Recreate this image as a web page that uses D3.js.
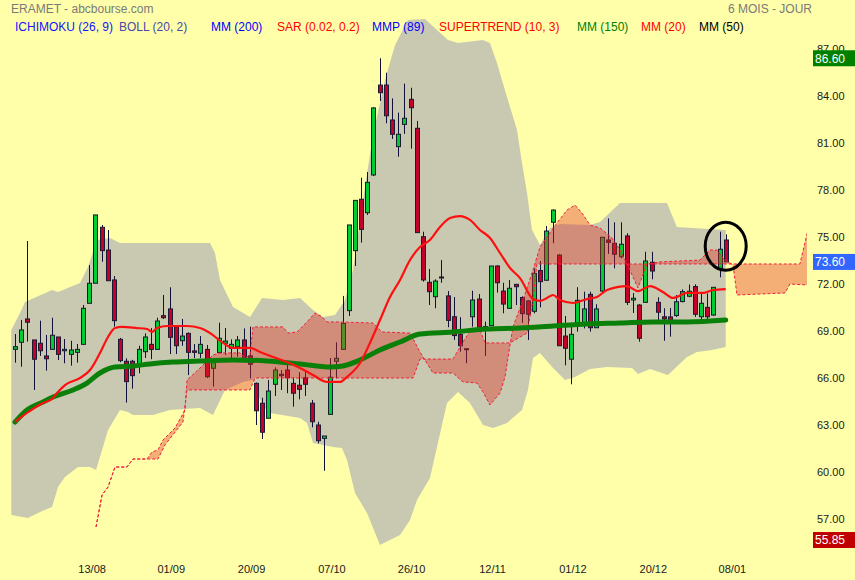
<!DOCTYPE html>
<html><head><meta charset="utf-8">
<script src="https://cdn.jsdelivr.net/npm/d3@7"></script>
<style>
body{margin:0;background:#ffffaa}
svg{display:block}
text{font-family:"Liberation Sans",Arial,sans-serif}
</style>
</head><body>
<svg id="chart" width="855" height="580"></svg>
<script>
// ---------- DATA ----------
const openP = [68.02,68.47,69.96,68.62,68.41,67.60,68.02,68.81,67.93,67.70,
 67.83,68.34,70.96,72.24,75.81,74.36,72.45,68.66,67.26,67.26,
 66.98,67.87,68.34,68.02,70.17,70.60,69.47,68.57,69.04,67.92,
 67.77,68.02,66.81,67.81,68.41,68.09,68.19,68.62,67.60,65.85,
 64.58,63.62,65.79,66.43,66.70,65.85,65.73,66.21,64.58,63.19,
 62.34,63.87,67.26,68.02,70.49,74.32,77.60,76.74,79.15,84.89,
 84.89,82.66,80.96,82.38,83.98,82.13,75.21,72.30,71.38,72.60,
 71.43,70.10,68.98,68.06,70.10,71.23,69.41,69.53,73.34,71.74,
 70.64,72.17,71.33,71.11,70.45,73.05,72.43,76.13,74.04,68.87,
 67.39,69.68,69.68,71.53,69.40,71.74,75.00,74.79,73.93,75.26,
 71.17,70.85,71.02,73.58,71.02,70.10,70.09,70.18,71.07,71.41,
 72.03,70.10,70.70,70.21,73.19,75.00];
const highP = [69.00,69.89,74.94,68.62,69.85,68.94,70.04,68.81,68.68,68.57,
 68.36,70.85,73.40,76.60,75.96,75.64,72.70,68.75,67.45,67.35,
 68.25,69.04,69.38,70.04,71.49,71.98,69.55,69.96,69.10,68.36,
 68.87,68.30,67.45,69.72,69.38,68.66,68.87,69.36,69.47,65.90,
 64.93,66.06,66.87,66.70,67.02,66.24,66.56,66.70,64.79,63.40,
 62.49,67.47,68.47,71.43,75.96,77.53,78.98,79.34,83.47,86.60,
 85.68,84.04,83.13,84.98,84.72,82.60,75.53,73.15,72.49,73.72,
 71.74,71.36,70.07,68.06,71.76,71.55,69.79,73.34,73.40,72.27,
 72.45,72.20,71.40,71.15,73.19,73.66,75.89,76.95,74.09,70.15,
 69.73,71.99,71.70,71.70,70.90,75.17,76.38,76.13,76.13,75.43,
 71.62,70.90,74.25,74.25,71.34,70.64,70.66,71.49,71.85,72.16,
 72.17,71.59,71.59,72.00,75.53,75.36];
const lowP = [67.17,66.91,68.51,65.43,67.60,66.66,68.02,67.34,67.13,66.98,
 67.17,68.34,70.96,72.24,73.61,72.40,69.47,67.20,64.62,65.51,
 66.49,67.47,67.39,68.02,69.96,67.72,67.72,68.25,66.38,67.47,
 67.47,66.19,65.64,67.81,67.66,67.45,67.55,67.34,66.17,63.19,
 62.30,63.62,65.04,65.43,65.22,64.36,64.83,65.04,63.04,62.02,
 60.27,63.87,66.17,68.02,70.15,73.34,74.83,76.60,79.08,83.87,
 82.45,81.45,80.32,81.77,80.83,75.47,72.34,70.85,70.64,72.27,
 69.43,68.62,67.87,67.13,69.47,69.15,67.60,69.53,71.64,70.32,
 70.60,70.85,69.72,68.62,70.32,70.70,72.43,74.79,68.25,67.00,
 65.79,69.15,69.36,69.15,69.40,71.60,74.11,73.19,73.83,70.85,
 70.34,68.51,71.02,72.49,69.89,68.57,68.83,70.09,71.02,71.35,
 70.09,69.89,69.89,70.15,72.62,73.60];
const closeP = [68.19,69.26,69.75,67.39,67.93,67.42,68.92,67.70,68.02,67.98,
 68.02,70.64,72.24,76.60,74.32,72.40,69.85,67.30,65.96,66.34,
 68.02,68.81,68.02,69.83,70.04,68.79,68.25,68.87,67.83,67.83,
 68.34,66.27,67.17,68.73,68.55,68.34,68.62,67.45,67.07,64.10,
 62.73,65.36,66.70,66.34,66.21,65.22,65.47,65.79,63.40,62.19,
 62.49,66.24,67.45,69.68,75.96,77.53,75.68,78.68,83.43,84.40,
 82.93,81.75,81.75,82.77,83.44,75.47,72.45,71.70,72.38,72.64,
 69.87,68.90,68.25,68.00,71.17,69.43,69.47,73.34,72.27,70.91,
 71.92,72.02,70.30,70.26,72.87,72.34,75.57,76.91,68.25,68.09,
 68.98,71.15,70.60,69.40,70.60,75.17,74.85,74.09,74.73,71.02,
 71.28,68.73,73.66,73.02,70.39,69.96,69.87,71.06,71.71,71.73,
 70.26,70.96,70.10,71.98,74.41,73.60];

// Bollinger (20,2) envelope, [candle index, price]
const bollUpper = [[-0.6,69.26],[0.81,70.34],[1.62,71.04],[5.99,71.81],[6.96,71.68],[10.52,72.26],[11.81,73.28],
 [13.27,75.00],[15.37,75.13],[16.99,74.81],[31.55,74.81],[32.36,74.17],[33.17,72.45],[35.28,70.72],[38.03,70.09],
 [39.97,71.30],[43.37,71.17],[46.12,71.30],[48.22,70.53],[49.84,70.09],[51.78,70.21],[53.40,71.17],[54.69,73.09],
 [56.31,77.55],[57.93,81.70],[59.87,85.21],[61.49,87.45],[63.59,89.04],[66.34,89.11],[70.06,87.77],[71.68,87.57],
 [75.73,87.77],[76.86,87.57],[77.99,86.30],[79.61,84.13],[81.23,82.02],[82.04,79.91],[82.85,78.00],[83.66,75.64],
 [84.95,74.68],[86.57,75.77],[88.19,76.02],[93.04,75.96],[94.66,76.15],[97.90,77.36],[105.5,77.36],[107.1,75.83],[115,75.64]];
const bollLower = [[-0.6,57.45],[2.10,57.26],[4.05,57.64],[5.99,57.96],[6.96,59.23],[8.09,59.87],[10.19,60.51],
 [12.14,60.51],[13.11,60.32],[13.75,61.15],[15.05,62.87],[16.99,64.15],[18.28,64.02],[19.09,63.83],[22.33,63.83],
 [25.08,64.15],[29.94,64.28],[32.04,63.83],[33.98,65.43],[36.89,65.94],[38.51,66.06],[39.97,64.47],[41.26,63.96],
 [46.12,63.64],[47.25,63.32],[48.22,62.04],[51.46,61.79],[52.91,61.72],[53.72,60.96],[55.02,58.85],[56.96,57.57],
 [59.06,55.53],[62.30,56.17],[63.92,57.13],[65.05,58.40],[67.15,59.81],[69.90,64.60],[71.68,65.30],[73.62,64.60],
 [75.73,63.19],[77.35,63.00],[79.61,63.32],[82.04,64.15],[83.01,65.43],[83.82,67.47],[84.95,67.79],[87.06,66.83],
 [89.00,66.06],[90.61,66.26],[93.04,66.77],[95.79,66.89],[99.84,66.83],[100.81,66.45],[102.75,66.77],[105.66,66.38],
 [108.74,67.53],[110.36,67.85],[112.78,67.98],[115,68.17]];

// Ichimoku (26,9) cloud spans, [index, price]
const spanA = [[13.11,56.68],[14.08,58.72],[15.05,59.23],[16.18,60.51],[18.12,60.51],[19.09,61.02],[21.36,61.02],
 [22.17,61.47],[23.14,61.60],[23.95,62.23],[25.89,63.00],[27.51,64.15],[27.83,66.06],[29.94,66.83],[32.04,67.66],
 [33.17,67.79],[36.41,67.79],[37.22,67.47],[38.03,67.66],[38.51,69.45],[43.37,69.45],[44.17,69.06],[45.63,69.13],
 [47.25,69.77],[48.54,70.34],[49.68,70.09],[50.49,69.77],[52.59,69.77],[57.93,69.70],[59.39,69.13],[63.92,69.06],
 [65.53,67.85],[67.64,66.51],[70.87,66.51],[72.49,65.94],[74.76,65.87],[75.73,65.30],[76.86,64.47],[78.48,65.23],
 [79.29,66.26],[80.10,68.30],[80.58,69.45],[82.20,71.17],[83.82,73.09],[84.95,74.55],[87.70,76.09],[89.32,76.91],
 [90.61,77.23],[91.75,76.72],[93.04,75.96],[94.66,75.77],[96.60,75.13],[97.90,74.36],[99.03,73.47],[100.81,71.94],
 [102.27,73.47],[104.37,73.60],[110.84,73.72],[112.46,74.36],[113.59,74.36],[114.56,73.85],[116.18,73.40],
 [116.83,71.49],[124.60,71.62],[125.40,72.19],[128.2,72.13]];
const spanB = [[13.11,56.68],[14.08,58.72],[15.05,59.23],[16.18,60.51],[18.12,60.51],[19.09,61.02],[23.14,61.02],
 [24.27,61.92],[27.18,63.38],[27.83,65.43],[38.03,65.43],[38.83,66.19],[64.40,66.19],[65.53,67.40],[70.87,67.40],
 [72.49,68.49],[73.95,69.38],[75.24,69.26],[76.05,68.43],[80.10,68.43],[82.85,69.06],[83.82,71.17],[84.45,73.47],
 [127.0,73.47],[128.2,75.45]];

// Moving averages, [index, price]
const mm20 = [[0,63.38],[1.94,63.96],[4.53,64.60],[5.99,64.85],[6.80,65.23],[8.09,65.74],[10.52,66.19],[12.14,66.70],
 [13.75,67.79],[15.05,68.81],[16.18,69.38],[17.31,69.45],[19.74,69.38],[21.36,69.32],[22.17,69.13],[22.98,69.38],
 [24.60,69.51],[27.83,69.51],[29.94,69.38],[31.55,69.06],[33.66,68.43],[35.28,68.11],[38.03,68.11],[39.64,67.85],
 [41.75,67.53],[44.01,67.21],[46.12,66.83],[48.22,66.38],[50.49,65.94],[52.59,65.94],[53.72,66.26],[55.83,67.15],
 [57.44,68.43],[59.06,69.89],[60.68,71.36],[62.30,72.45],[63.92,73.72],[65.53,74.55],[67.15,75.00],[68.77,75.83],
 [70.39,76.40],[72.01,76.53],[73.62,76.28],[75.24,75.64],[76.86,75.13],[78.48,74.17],[80.10,73.21],[81.72,72.57],
 [83.82,71.23],[84.95,71.11],[86.08,71.30],[87.06,71.49],[88.19,71.17],[90.29,70.98],[92.56,71.23],[94.17,71.36],
 [95.79,71.81],[99.03,72.06],[100.81,71.74],[102.75,72.06],[104.85,71.68],[106.47,71.30],[108.74,71.62],
 [111.33,71.62],[112.94,71.81],[115,71.87]];
const mm150 = [[0,63.38],[1.94,64.15],[4.53,64.66],[6.15,64.98],[9.39,65.43],[11.65,65.87],[13.75,66.51],[16.18,66.89],
 [19.09,66.96],[21.84,67.09],[25.57,67.21],[29.94,67.28],[35.28,67.34],[40.78,67.28],[46.12,67.09],[50.97,66.89],
 [53.07,66.96],[55.83,67.34],[59.06,67.98],[62.30,68.49],[65.53,69.00],[70.87,69.13],[76.38,69.32],[81.72,69.38],
 [87.06,69.51],[92.56,69.64],[97.90,69.70],[103.24,69.77],[108.74,69.77],[115,69.89]];

// Axis / labels
const priceTicks = [57,60,63,66,69,72,75,78,81,84,87];
const dateLabels = ["13/08","01/09","20/09","07/10","26/10","12/11","01/12","20/12","08/01"];
const dateIdx = [12.4,25.2,38.2,51.2,64.1,77.2,90.2,103.2,116.0];
const markerValues = [86.60,73.60,55.85];
const legendLabels = ["ICHIMOKU (26, 9)","BOLL (20, 2)","MM (200)","SAR (0.02, 0.2)","MMP (89)","SUPERTREND (10, 3)","MM (150)","MM (20)","MM (50)"];
const titleText = "ERAMET - abcbourse.com";
const periodText = "6 MOIS - JOUR";
const highlightIdx = 115, highlightPrice = 74.6;

// ---------- STYLE / LAYOUT ----------
const legendColors = ["#1515ff","#4848a8","#0000ff","#ff0000","#0000ff","#ff0000","#008000","#ff0000","#000000"];
const legendX = [15,119,211,277,372,439,577,641,699];
const markerColors = ["#008000","#3366ff","#c00000"];

const W = 855, H = 580;
const x = d3.scaleLinear().domain([0,115]).range([15,725.7]);
const y = d3.scaleLinear().domain([57,87]).range([522,52]);

const svg = d3.select("#chart");
svg.append("rect").attr("width",W).attr("height",H).attr("fill","#ffffaa");

svg.append("defs").append("clipPath").attr("id","plotClip")
  .append("rect").attr("x",10).attr("y",0).attr("width",797).attr("height",560);
const plot = svg.append("g").attr("clip-path","url(#plotClip)");

const lineXY = d3.line().x(d=>x(d[0])).y(d=>y(d[1]));
const poly = (a,b) => a.concat(b.slice().reverse());

// Bollinger band
plot.append("path").attr("d", lineXY(poly(bollUpper,bollLower))+"Z").attr("fill","#c9c9b1");

// Candles
const idx = d3.range(closeP.length);
const cg = plot.append("g");
cg.selectAll("line.wick").data(idx).join("line").attr("class","wick")
  .attr("x1",i=>Math.round(x(i))+0.5).attr("x2",i=>Math.round(x(i))+0.5)
  .attr("y1",i=>y(highP[i])).attr("y2",i=>y(lowP[i]))
  .attr("stroke","#10103a").attr("stroke-width",1);
cg.selectAll("rect.body").data(idx).join("rect").attr("class","body")
  .attr("x",i=>Math.round(x(i))-1.5).attr("width",4)
  .attr("y",i=>y(Math.max(openP[i],closeP[i])))
  .attr("height",i=>Math.max(1,Math.abs(y(openP[i])-y(closeP[i]))))
  .attr("fill",i=>closeP[i]>=openP[i]?"#00cc33":"#c4002c")
  .attr("stroke","#1a1a30").attr("stroke-width",1);

// Ichimoku cloud
plot.append("path").attr("d", lineXY(poly(spanA,spanB))+"Z")
  .attr("fill","rgb(225,45,35)").attr("fill-opacity",0.38);
[spanA,spanB].forEach(s=>{
  plot.append("path").attr("d",lineXY(s)).attr("fill","none")
    .attr("stroke","#f0203a").attr("stroke-width",1).attr("stroke-dasharray","3,2");
});

// Moving averages
const smooth = d3.line().x(d=>x(d[0])).y(d=>y(d[1])).curve(d3.curveMonotoneX);
plot.append("path").attr("d",smooth(mm150)).attr("fill","none").attr("stroke","#0a800a")
  .attr("stroke-width",5).attr("stroke-linejoin","round").attr("stroke-linecap","round");
plot.append("path").attr("d",smooth(mm20)).attr("fill","none").attr("stroke","#ff1010")
  .attr("stroke-width",2.2).attr("stroke-linejoin","round");

// Highlight ellipse
svg.append("ellipse").attr("cx",x(highlightIdx)).attr("cy",y(highlightPrice))
  .attr("rx",20.5).attr("ry",24).attr("fill","none").attr("stroke","#000").attr("stroke-width",3);

// Y axis
const yAxis = d3.axisRight(y).tickValues(priceTicks).tickFormat(d=>d.toFixed(2)).tickSize(0).tickPadding(0);
const gy = svg.append("g").attr("transform","translate(817,-3)").call(yAxis);
gy.select(".domain").remove();
gy.attr("font-size",11).attr("font-family","'Liberation Sans',Arial,sans-serif").attr("color","#1a1a1a");

// Price markers
const mg = svg.append("g");
markerValues.forEach((v,k)=>{
  mg.append("rect").attr("x",813).attr("y",y(v)-8).attr("width",42).attr("height",16).attr("fill",markerColors[k]);
  mg.append("text").attr("x",815).attr("y",y(v)).attr("dy","0.36em").attr("font-size",12)
    .attr("fill","#fff").text(v.toFixed(2));
});

// X axis
const xAxis = d3.axisBottom(x).tickValues(dateIdx).tickFormat((d,i)=>dateLabels[i]).tickSize(0).tickPadding(0);
const gx = svg.append("g").attr("transform","translate(0,565)").call(xAxis);
gx.select(".domain").remove();
gx.attr("font-size",11).attr("font-family","'Liberation Sans',Arial,sans-serif").attr("color","#1a1a1a");

// Title & legend
svg.append("text").attr("x",11).attr("y",9).attr("dy","0.36em").attr("font-size",12).attr("fill","#7a7a7a").text(titleText);
svg.append("text").attr("x",728).attr("y",9).attr("dy","0.36em").attr("font-size",12).attr("fill","#7a7a7a").text(periodText);
legendLabels.forEach((t,k)=>{
  svg.append("text").attr("x",legendX[k]).attr("y",27).attr("dy","0.36em").attr("font-size",12)
    .attr("fill",legendColors[k]).text(t);
});
</script>
</body></html>
